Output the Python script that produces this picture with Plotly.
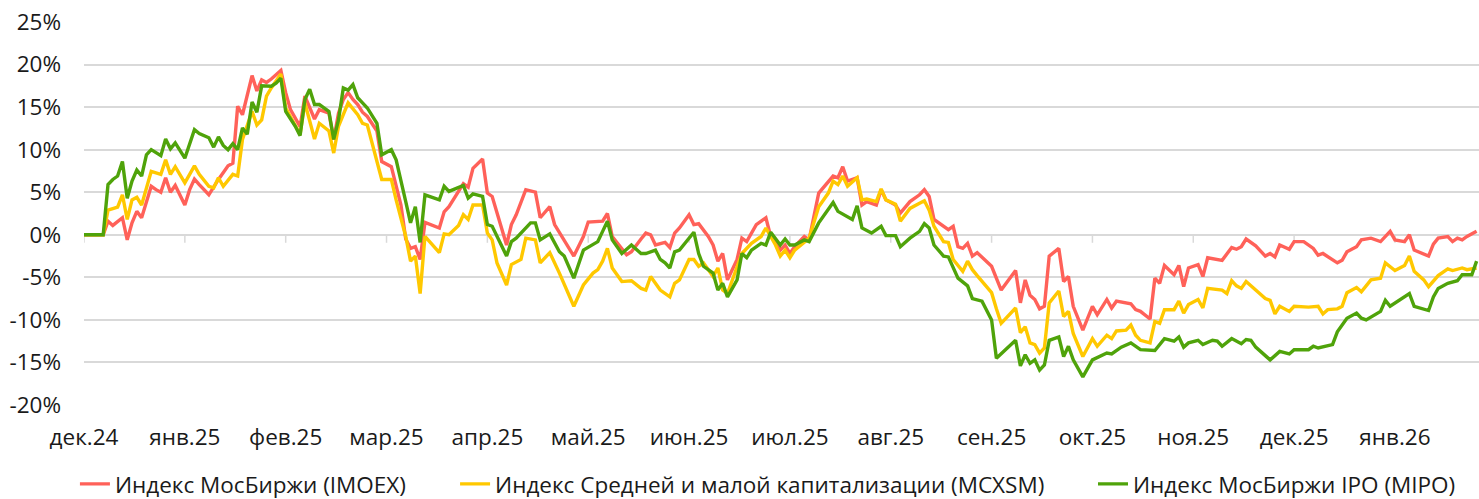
import plotly.graph_objects as go

# Trading-day index (0 = first trading day of Dec 2024) and cumulative change, %
imoex_day = [0, 4, 5, 6, 8, 9, 10, 11, 12, 14, 15, 16, 17, 18, 19, 21, 22, 23, 24, 26, 28, 30, 31, 32, 33,
             35, 36, 37, 38, 39, 41, 42, 43, 45, 46, 48, 49, 51, 52, 53, 54, 55, 56, 57, 58, 59, 61, 62, 64,
             66, 67, 68, 69, 70, 71, 74, 75, 76, 79, 80, 81, 83, 84, 85, 88, 89, 90, 92, 94, 95, 97, 98, 102,
             104, 105, 108, 109, 110, 113, 114, 116, 117, 118, 119, 121, 122, 123, 124, 126, 127, 128, 130,
             131, 132, 133, 134, 136, 137, 138, 139, 140, 142, 143, 144, 145, 146, 147, 148, 150, 151, 153,
             156, 157, 158, 159, 161, 162, 163, 165, 166, 167, 169, 170, 172, 174, 175, 176, 177, 180, 181,
             182, 183, 184, 185, 186, 189, 190, 191, 194, 195, 196, 197, 198, 199, 200, 201, 203, 204, 205,
             206, 208, 210, 211, 213, 214, 215, 218, 219, 220, 222, 223, 224, 225, 227, 228, 229, 230, 232,
             233, 234, 237, 239, 240, 241, 242, 244, 246, 247, 248, 249, 251, 252, 254, 256, 257, 258, 261,
             262, 263, 265, 266, 268, 270, 272, 273, 275, 276, 277, 280, 281, 282, 284, 285, 286, 287, 288, 290]
imoex = [0, 0, 1.6, 1.1, 2.0, -0.6, 1.4, 2.75, 2.0, 5.7, 5.3, 5.0, 6.7, 5.0, 5.8, 3.5, 5.3, 6.55, 5.9, 4.7,
         6.5, 8.1, 8.4, 15.1, 14.1, 18.7, 16.9, 18.2, 17.9, 18.3, 19.3, 16.7, 14.7, 12.7, 16.3, 13.6, 14.7,
         14.3, 11.2, 14.3, 15.9, 16.7, 15.9, 15.3, 14.4, 13.9, 12.2, 8.6, 8.0, 3.5, -0.5, -1.6, -1.4, -2.9,
         1.45, 0.8, 2.7, 3.3, 6.0, 5.6, 7.8, 8.9, 4.9, 4.5, -1.2, 1.2, 2.35, 5.3, 5.0, 2.0, 3.3, 1.2, -2.5,
         -0.2, 1.5, 1.6, 2.5, -0.2, -2.35, -2.0, -0.5, 0.2, 0.0, -1.2, -0.9, -1.5, 0.2, 0.8, 2.35, 1.2, 1.3,
         -0.2, -1.2, -3.1, -2.2, -5.3, -2.9, -0.4, -0.8, 0.2, 1.2, 2.0, -0.2, -0.6, -1.8, -1.2, -2.2, -1.4,
         -0.2, -0.6, 4.9, 6.9, 6.7, 8.0, 6.3, 6.7, 3.5, 3.9, 3.5, 5.3, 4.1, 3.5, 2.55, 3.9, 4.7, 5.3, 4.5,
         1.8, 0.6, 1.0, -1.4, -1.6, -1.0, -2.5, -2.1, -3.7, -5.1, -6.5, -4.2, -8.0, -5.3, -7.1, -7.6, -8.7,
         -8.4, -2.5, -1.6, -5.5, -4.9, -8.4, -11.2, -8.4, -9.4, -7.6, -8.6, -7.8, -8.1, -8.8, -9.0, -9.9,
         -5.1, -5.7, -3.6, -4.7, -3.6, -6.1, -3.9, -3.5, -4.9, -2.7, -3.0, -1.5, -1.7, -1.4, -0.5, -1.3,
         -2.5, -2.2, -2.6, -1.2, -1.7, -0.8, -0.8, -1.6, -2.4, -2.2, -3.3, -3.0, -2.0, -1.4, -0.6, -0.4,
         -0.8, 0.4, -0.6, -0.8, 0.0, -1.8, -2.5, -1.1, -0.4, -0.2, -0.8, -0.4, -0.6, -0.2, 0.4]

mcxsm_day = [0, 4, 5, 7, 8, 9, 10, 11, 12, 14, 16, 17, 18, 19, 21, 23, 24, 26, 27, 28, 29, 31, 32, 33, 35,
             36, 37, 38, 39, 41, 42, 44, 45, 46, 48, 49, 51, 52, 53, 55, 57, 58, 59, 62, 64, 65, 67, 68, 69,
             70, 71, 74, 75, 76, 78, 79, 80, 81, 83, 84, 85, 86, 88, 89, 91, 92, 94, 95, 97, 99, 102, 104,
             106, 107, 108, 109, 110, 112, 114, 116, 117, 118, 120, 122, 123, 124, 126, 127, 128, 129, 131,
             132, 133, 134, 136, 137, 139, 141, 142, 144, 145, 146, 147, 148, 151, 153, 155, 156, 157, 158,
             159, 161, 162, 163, 165, 166, 167, 169, 170, 172, 174, 175, 176, 177, 179, 180, 181, 183, 184,
             185, 186, 189, 190, 191, 194, 195, 196, 197, 198, 199, 200, 201, 203, 204, 205, 206, 208, 210,
             211, 213, 214, 215, 217, 218, 219, 220, 222, 223, 224, 225, 227, 228, 229, 230, 232, 233, 234,
             237, 238, 239, 240, 241, 242, 243, 246, 247, 248, 249, 251, 252, 255, 257, 258, 259, 261, 262,
             263, 265, 266, 268, 270, 271, 273, 275, 276, 277, 279, 280, 282, 284, 285, 287, 288, 290]
mcxsm = [0, 0, 2.9, 3.25, 4.7, 1.8, 4.1, 4.4, 3.5, 7.45, 7.1, 8.8, 7.1, 8.0, 6.1, 8.1, 7.1, 5.7, 5.5, 6.7,
         5.7, 7.1, 6.9, 11.2, 14.5, 12.9, 13.5, 16.3, 17.25, 18.9, 14.9, 12.75, 11.8, 15.5, 11.25, 13.1,
         12.2, 9.6, 12.75, 15.5, 14.1, 13.1, 12.9, 6.5, 6.5, 4.1, -0.2, -3.1, -2.5, -6.9, -0.2, -2.1, 0.1,
         0.0, 1.1, 2.35, 1.8, 3.5, 3.5, 0.2, -0.6, -3.3, -5.9, -3.5, -2.9, -0.4, -0.6, -3.3, -2.1, -4.5,
         -8.4, -5.9, -4.5, -4.1, -3.1, -1.6, -3.9, -5.5, -5.4, -6.3, -6.5, -4.9, -6.5, -7.3, -5.7, -5.3,
         -2.9, -2.9, -3.7, -3.3, -4.9, -3.9, -6.5, -6.9, -3.9, -2.2, -1.0, -0.2, 0.8, -1.2, -2.5, -1.8,
         -2.7, -1.8, -0.4, 3.3, 4.9, 6.3, 5.9, 6.9, 5.7, 6.7, 4.1, 4.2, 3.9, 5.4, 4.1, 3.6, 1.6, 3.1, 3.7,
         4.0, 2.9, 1.0, -0.8, -0.9, -2.9, -4.3, -3.1, -4.1, -4.8, -6.8, -8.7, -10.4, -8.6, -11.5, -10.8,
         -12.7, -12.9, -13.9, -13.3, -8.0, -6.6, -9.6, -9.0, -11.6, -14.3, -12.2, -13.1, -11.8, -12.2,
         -11.3, -11.2, -10.6, -11.8, -12.4, -12.7, -10.2, -10.4, -8.8, -8.8, -7.8, -9.2, -8.2, -7.6, -8.6,
         -6.3, -6.5, -6.9, -5.4, -6.0, -6.3, -5.5, -6.0, -7.5, -7.7, -9.3, -8.4, -9.0, -8.4, -8.5, -8.4,
         -9.3, -8.8, -8.7, -8.4, -6.8, -6.2, -6.7, -5.3, -5.1, -3.3, -4.2, -3.6, -2.5, -4.3, -5.3, -6.1,
         -4.8, -4.0, -4.2, -3.9, -4.1, -3.9]

mipo_day = [0, 4, 5, 6, 7, 8, 9, 10, 11, 12, 13, 14, 16, 17, 18, 19, 21, 22, 23, 24, 26, 27, 28, 29, 30,
            31, 32, 33, 34, 35, 36, 37, 39, 40, 41, 42, 44, 45, 46, 47, 48, 49, 51, 52, 53, 54, 55, 56, 57,
            58, 59, 61, 62, 64, 65, 67, 68, 69, 70, 71, 74, 75, 76, 79, 80, 81, 83, 84, 85, 88, 89, 90, 93,
            94, 95, 97, 99, 100, 102, 104, 107, 108, 109, 110, 112, 114, 116, 117, 119, 120, 121, 122, 123,
            124, 127, 128, 129, 131, 132, 133, 134, 136, 137, 138, 139, 141, 142, 143, 145, 146, 147, 148,
            150, 151, 153, 156, 157, 160, 161, 162, 164, 166, 167, 169, 170, 172, 174, 175, 176, 177, 179,
            180, 182, 184, 185, 187, 189, 190, 194, 195, 196, 197, 198, 199, 200, 201, 203, 204, 205, 206,
            208, 210, 213, 214, 216, 218, 220, 223, 224, 225, 227, 228, 229, 230, 232, 233, 235, 236, 237,
            239, 241, 242, 243, 244, 246, 247, 249, 251, 252, 255, 256, 257, 260, 261, 263, 265, 266, 267,
            270, 271, 272, 275, 276, 277, 280, 281, 282, 284, 286, 287, 289, 290]
mipo = [0, 0, 5.9, 6.5, 6.9, 8.6, 4.3, 6.3, 7.6, 6.9, 9.4, 10.0, 9.3, 11.25, 10.1, 10.8, 9.0, 10.8, 12.35,
        11.9, 11.4, 10.3, 11.5, 10.5, 10.0, 10.7, 10.0, 12.55, 11.8, 15.6, 14.4, 17.5, 17.45, 17.8, 18.4,
        14.5, 12.75, 11.65, 15.9, 17.1, 15.3, 15.3, 14.5, 11.2, 13.5, 17.25, 17.0, 17.65, 16.1, 15.5, 14.9,
        13.1, 9.4, 10.0, 8.8, 3.9, 1.4, 3.3, -0.9, 4.7, 4.1, 5.7, 5.1, 5.8, 4.3, 4.8, 4.5, 1.2, 1.0, -2.5,
        -0.8, -0.4, 1.4, 1.4, -0.6, 0.1, -2.0, -2.5, -5.1, -1.8, -0.8, 0.4, 1.6, -0.6, -2.2, -1.2, -2.2,
        -2.2, -1.8, -2.9, -3.3, -3.9, -2.0, -1.8, 0.3, -2.2, -3.7, -4.5, -6.5, -5.7, -7.3, -5.3, -2.2, -2.7,
        -1.8, -1.0, -1.2, 0.3, -1.2, -0.5, -1.2, -1.2, -0.6, -0.8, 1.4, 3.8, 2.75, 1.8, 3.4, 0.8, 0.2, 1.0,
        -0.1, -0.1, -1.4, -0.4, 0.4, 1.3, 0.8, -1.2, -2.5, -2.6, -5.1, -6.0, -7.5, -7.8, -10.0, -14.5,
        -12.4, -15.4, -14.1, -15.1, -14.7, -15.9, -15.3, -12.4, -12.0, -14.3, -13.1, -14.7, -16.7, -14.7,
        -13.9, -14.0, -13.2, -12.7, -13.5, -13.6, -12.9, -12.2, -12.5, -12.0, -13.2, -12.7, -12.4, -12.9,
        -12.4, -12.5, -13.1, -12.2, -12.8, -12.3, -12.4, -13.2, -14.2, -14.7, -13.7, -14.0, -13.5, -13.5,
        -13.1, -13.3, -12.9, -11.4, -9.8, -9.2, -9.8, -10.0, -9.0, -7.7, -8.4, -7.3, -6.9, -8.4, -8.9, -7.3,
        -6.3, -5.7, -5.4, -4.7, -4.7, -3.1]

month_ticks = [0, 21, 42, 63, 84, 105, 126, 147, 168, 189, 210, 231, 252, 273]
month_labels = ["дек.24", "янв.25", "фев.25", "мар.25", "апр.25", "май.25", "июн.25",
                "июл.25", "авг.25", "сен.25", "окт.25", "ноя.25", "дек.25", "янв.26"]
y_ticks = [-20, -15, -10, -5, 0, 5, 10, 15, 20, 25]
y_labels = [f"{v}%" for v in y_ticks]

series = [
    ("Индекс МосБиржи (IMOEX)", imoex_day, imoex, "#FF6159", "legend", -0.0065),
    ("Индекс Средней и малой капитализации (MCXSM)", mcxsm_day, mcxsm, "#FFC800", "legend2", 0.266),
    ("Индекс МосБиржи IPO (MIPO)", mipo_day, mipo, "#4FA30A", "legend3", 0.7233),
]

FONT = "Open Sans"
FS = 22.5
TEXT = "#1a1a1a"
GRID = "#d9d9d9"
LEG_Y = -0.207

fig = go.Figure()
legends = {}
for name, xs, ys, color, leg, lx in series:
    fig.add_trace(go.Scatter(x=xs, y=ys, name=name, mode="lines", legend=leg,
                             line=dict(color=color, width=3.4)))
    legends[leg] = dict(orientation="h", x=lx, xanchor="left", y=LEG_Y, yanchor="middle",
                        font=dict(family=FONT, size=FS, color=TEXT),
                        bgcolor="rgba(0,0,0,0)", borderwidth=0)

# small tick marks hanging below the zero line at each month boundary
for t in month_ticks:
    fig.add_shape(type="line", xref="x", yref="y", x0=t, x1=t,
                  ysizemode="pixel", yanchor=0, y0=0, y1=-8,
                  line=dict(color=GRID, width=1.5), layer="below")

x_range = [0, 290.5]
y_range = [-20, 25]
fig.update_layout(
    width=1479, height=499,
    margin=dict(l=84, r=0, t=22, b=94, autoexpand=False),
    paper_bgcolor="white", plot_bgcolor="white",
    font=dict(family=FONT, size=FS, color=TEXT),
    showlegend=True,
    xaxis=dict(range=x_range, tickmode="array", tickvals=month_ticks, ticktext=month_labels,
               showgrid=False, zeroline=False, showline=False, ticks="", automargin=False,
               ticklabelstandoff=16, tickfont=dict(size=FS)),
    yaxis=dict(range=y_range, tickmode="array", tickvals=y_ticks, ticktext=y_labels,
               showgrid=True, gridcolor=GRID, gridwidth=1.5, zeroline=False, automargin=False,
               showline=False, ticks="", ticklabelstandoff=22, tickfont=dict(size=FS)),
    **legends,
)
fig.write_html("out.html", config={"displayModeBar": False},
               post_script="document.body.style.margin='0';document.body.style.overflow='hidden';")
